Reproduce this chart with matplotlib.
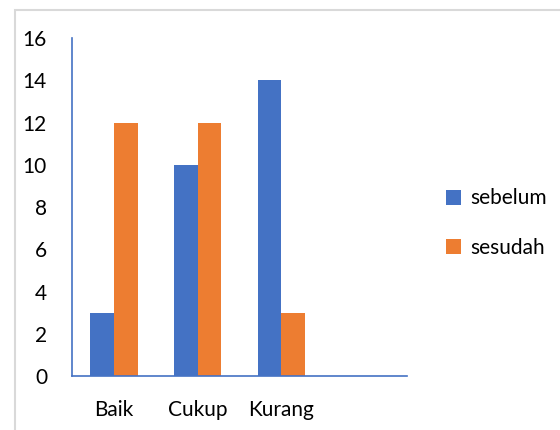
import numpy as np
import matplotlib.pyplot as plt
from matplotlib.patches import Rectangle

plt.rcParams['font.family'] = ['Lato', 'DejaVu Sans']

categories = ['Baik', 'Cukup', 'Kurang', '']
sebelum = [3, 10, 14, 0]
sesudah = [12, 12, 3, 0]
yticks = [0, 2, 4, 6, 8, 10, 12, 14, 16]

blue = '#4472C4'
orange = '#ED7D31'

fig = plt.figure(figsize=(5.6, 4.3), dpi=100)
W, H = 560, 430
# light grey frame of the chart area
fig.patches.append(Rectangle((15 / W, -0.1), 1.1, 1 - 9.5 / H + 0.1,
                             transform=fig.transFigure, fill=False,
                             edgecolor='#D9D9D9', linewidth=1.5))

ax = fig.add_axes([72 / W, 1 - 376 / H, (407 - 72) / W, (376 - 38) / H])

x = np.arange(len(categories))
w = 0.285
n = 3  # only first three categories have bars
ax.bar(x[:n] - w / 2, sebelum[:n], w, color=blue, label='sebelum')
ax.bar(x[:n] + w / 2, sesudah[:n], w, color=orange, label='sesudah')

ax.set_xlim(-0.5, len(categories) - 0.5)
ax.set_ylim(0, 16)
ax.set_yticks(yticks)
ax.set_xticks(x[:n])
ax.set_xticklabels(categories[:n])
ax.tick_params(axis='both', length=0, labelsize=15)
ax.tick_params(axis='y', pad=18)
ax.tick_params(axis='x', pad=17)

for s in ['top', 'right']:
    ax.spines[s].set_visible(False)
for s in ['left', 'bottom']:
    ax.spines[s].set_color(blue)
    ax.spines[s].set_linewidth(1.2)

leg = ax.legend(loc='center left', bbox_to_anchor=(427 / W, 1 - 223 / H),
                bbox_transform=fig.transFigure, frameon=False, fontsize=15,
                handlelength=0.75, handleheight=0.75, handletextpad=0.45,
                labelspacing=1.4)

fig.savefig('out.png', dpi=100)
